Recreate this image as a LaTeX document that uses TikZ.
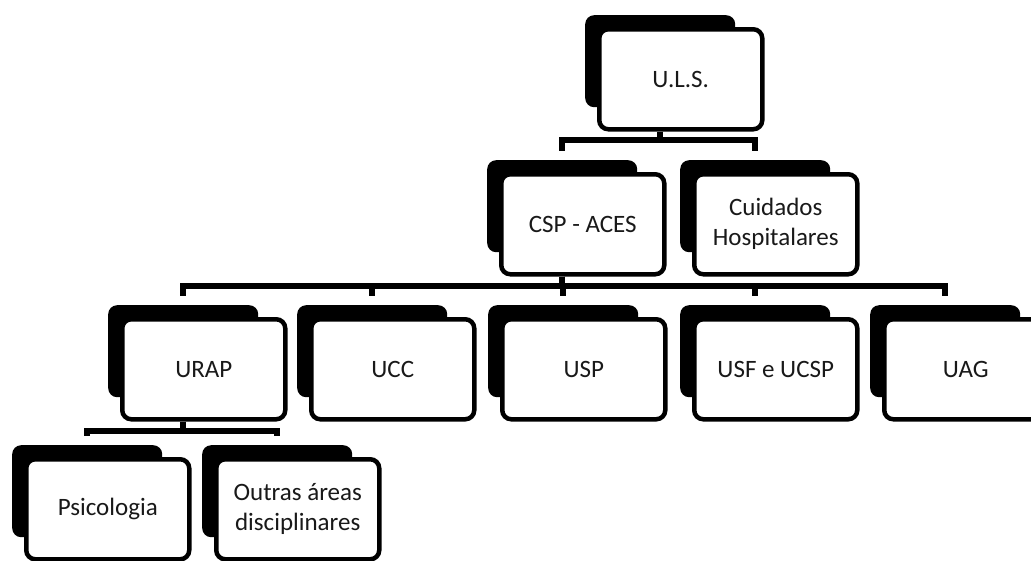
\documentclass[tikz,border=0pt]{standalone}
\usepackage{fontspec}
\setmainfont{Carlito}
\usetikzlibrary{calc}
\def\orgunit(#1)(#2,#3)#4{%
  \node[backbox] (#1-bk) at (#2,#3) {};
  \node[frontbox] (#1) at (#2+12,#3+12) {#4};}

\begin{document}
\begin{tikzpicture}[x=1pt, y=-1pt,
    backbox/.style={anchor=north west, fill=black, rounded corners=9pt,
      minimum width=150pt, minimum height=92pt, inner sep=0pt},
    frontbox/.style={anchor=north west, draw=black, line width=4.5pt, fill=white,
      rounded corners=9pt, minimum width=163pt, minimum height=100pt,
      align=center, text=black!90, font=\fontsize{25}{30}\selectfont},
    conn/.style={line width=5.5pt},
    drop/.style={conn, shorten >=9pt}]
			\useasboundingbox (0,0) rectangle (1031,560);
			%%%%% START %%%%%
			
			\orgunit(uls)(585,15){U.L.S.}
			
			\orgunit(csp)(487,160){CSP - ACES}
			\orgunit(hosp)(680,160){Cuidados\\Hospitalares}
			
			\orgunit(urap)(108,305){URAP}
			\orgunit(ucc)(297,305){UCC}
			\orgunit(usp)(488,305){USP}
			\orgunit(usf)(680,305){USF e UCSP}
			\orgunit(uag)(870,305){UAG}
			
			\orgunit(psi)(12,445){Psicologia}
			\orgunit(outras)(202,445){Outras áreas\\disciplinares}
			
			\coordinate (bus1) at (0,140);
			\coordinate (bus2) at (0,286);
			\coordinate (bus3) at (0,431);
			
			\foreach \u in {csp,hosp}
			\draw[drop] (uls-bk.south |- uls.south) -- (uls-bk.south |- bus1) -| (\u-bk.north);
			
			\foreach \u in {urap,ucc,usp,usf,uag}
			\draw[drop] (csp-bk.south |- csp.south) -- (csp-bk.south |- bus2) -| (\u-bk.north);
			
			\foreach \u in {psi,outras}
			\draw[drop] (urap-bk.south |- urap.south) -- (urap-bk.south |- bus3) -| (\u-bk.north);
			
			%%%%% END %%%%%
\end{tikzpicture}
\end{document}
